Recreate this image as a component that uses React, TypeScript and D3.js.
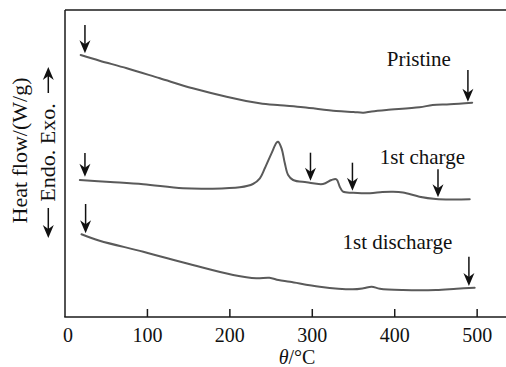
import React from "react";
import * as d3 from "d3";

// Temperature (°C) ticks
const xTicks = [100, 200, 300, 400, 500];
const xTickLabels = ["0", "100", "200", "300", "400", "500"];

// Heat-flow curves (arbitrary offset units) : [temperature °C, heat flow]
const pristine: [number, number][] = [
  [19, 26.2], [42, 25.63], [75, 24.87], [115, 23.87], [155, 22.87], [196, 22.03],
  [236, 21.37], [261, 21.17], [289, 20.97], [329, 20.6], [350, 20.5], [362, 20.43],
  [372, 20.55], [390, 20.7], [430, 20.97], [446, 21.2], [467, 21.27], [494, 21.43],
];
const firstCharge: [number, number][] = [
  [18, 13.7], [55, 13.5], [95, 13.27], [143, 12.87], [176, 12.83], [212, 12.97],
  [228, 13.3], [236.4, 13.87], [242.4, 14.87], [250.5, 16.37], [256.6, 17.43],
  [258.5, 17.53], [262.7, 16.87], [266.7, 15.37], [270.7, 14.2], [276.7, 13.7],
  [293, 13.47], [313, 13.3], [323.3, 13.7], [329.3, 13.77], [333.3, 13.03],
  [337.3, 12.53], [349.5, 12.43], [370, 12.37], [385, 12.5], [398, 12.53],
  [410, 12.45], [430, 12.03], [450, 11.8], [470, 11.75], [491, 11.77],
];
const firstDischarge: [number, number][] = [
  [20, 8.27], [42, 7.63], [95, 6.53], [155, 5.2], [204, 4.2], [232, 3.87],
  [248, 3.93], [259, 3.7], [273, 3.53], [309, 3.03], [349, 2.77], [362, 2.87],
  [372, 3.03], [382, 2.83], [410, 2.7], [450, 2.7], [475, 2.83], [497, 2.93],
];

// Arrow markers : [temperature, tip value, tail value]
const arrows: [number, number, number][] = [
  [24.2, 26.37, 29.2], [488.8, 21.53, 24.7],
  [24.2, 14.03, 16.4], [297.8, 13.63, 16.43], [348.7, 12.63, 15.43], [452.5, 11.97, 14.77],
  [25, 8.37, 11.3], [490, 3.1, 6.03],
];

// Curve labels : [text, temperature (left), value (baseline)]
const curveLabels: [string, number, number][] = [
  ["Pristine", 390.3, 25.1],
  ["1st charge", 381.8, 15.3],
  ["1st discharge", 336.6, 6.8],
];

const W = 506;
const H = 367;
const left = 65, right = 506, top = 10, bottom = 317;

export default function App() {
  const x = d3.scaleLinear().domain([0, 535]).range([left, right]);
  const y = d3.scaleLinear().domain([0, 30.7]).range([bottom, top]);
  const line = d3
    .line<[number, number]>()
    .x((d) => x(d[0]))
    .y((d) => y(d[1]))
    .curve(d3.curveCatmullRom.alpha(0.5));

  const font = "'Liberation Serif', 'Times New Roman', serif";
  const curveColor = "#5a5a5a";

  const head = (tx: number, ty: number, dir: number) =>
    `M${tx},${ty} L${tx - 5.5},${ty - dir * 13} L${tx},${ty - dir * 9} L${tx + 5.5},${ty - dir * 13} Z`;

  const allTicks = [0, ...xTicks];

  return (
    <svg
      width={W}
      height={H}
      style={{ position: "absolute", left: 0, top: 0, background: "#fff" }}
      fontFamily={font}
    >
      {/* frame */}
      <g stroke="#1a1a1a" strokeWidth={1.5} fill="none">
        <line x1={left} y1={top} x2={right} y2={top} />
        <line x1={left} y1={top} x2={left} y2={bottom} />
        <line x1={left - 0.75} y1={bottom} x2={right} y2={bottom} />
        {xTicks.map((t) => (
          <line key={t} x1={x(t)} x2={x(t)} y1={bottom} y2={bottom - 8} />
        ))}
      </g>
      {allTicks.map((t, i) => (
        <text
          key={t}
          x={x(t) + (t === 0 ? 3 : 0)}
          y={341.5}
          fontSize={20}
          textAnchor="middle"
          fill="#111"
        >
          {xTickLabels[i]}
        </text>
      ))}
      <text x={297} y={364} fontSize={20} textAnchor="middle" fill="#111">
        <tspan fontStyle="italic">θ</tspan>/°C
      </text>

      {/* y label */}
      <text
        transform="translate(27,150.5) rotate(-90)"
        fontSize={22}
        textAnchor="middle"
        fill="#111"
      >
        Heat flow/(W/g)
      </text>
      <text
        transform="translate(54.5,152.5) rotate(-90)"
        fontSize={22}
        textAnchor="middle"
        fill="#111"
      >
        Endo. Exo.
      </text>
      <g stroke="#111" strokeWidth={1.5}>
        <line x1={48.3} x2={48.3} y1={93} y2={75} />
        <line x1={48.3} x2={48.3} y1={208} y2={230} />
      </g>
      <path d={head(48.3, 67, -1)} fill="#111" />
      <path d={head(48.3, 238, 1)} fill="#111" />

      {/* curves */}
      {[pristine, firstCharge, firstDischarge].map((d, i) => (
        <path
          key={i}
          d={line(d) || ""}
          fill="none"
          stroke={curveColor}
          strokeWidth={2}
          strokeLinejoin="round"
          strokeLinecap="round"
        />
      ))}

      {/* arrows */}
      {arrows.map(([t, tip, tail], i) => (
        <g key={i}>
          <line
            x1={x(t)}
            x2={x(t)}
            y1={y(tail)}
            y2={y(tip) - 8}
            stroke="#111"
            strokeWidth={1.5}
          />
          <path d={head(x(t), y(tip), 1)} fill="#111" />
        </g>
      ))}

      {/* curve labels */}
      {curveLabels.map(([s, t, v]) => (
        <text key={s} x={x(t)} y={y(v)} fontSize={21} fill="#111">
          {s}
        </text>
      ))}
    </svg>
  );
}
